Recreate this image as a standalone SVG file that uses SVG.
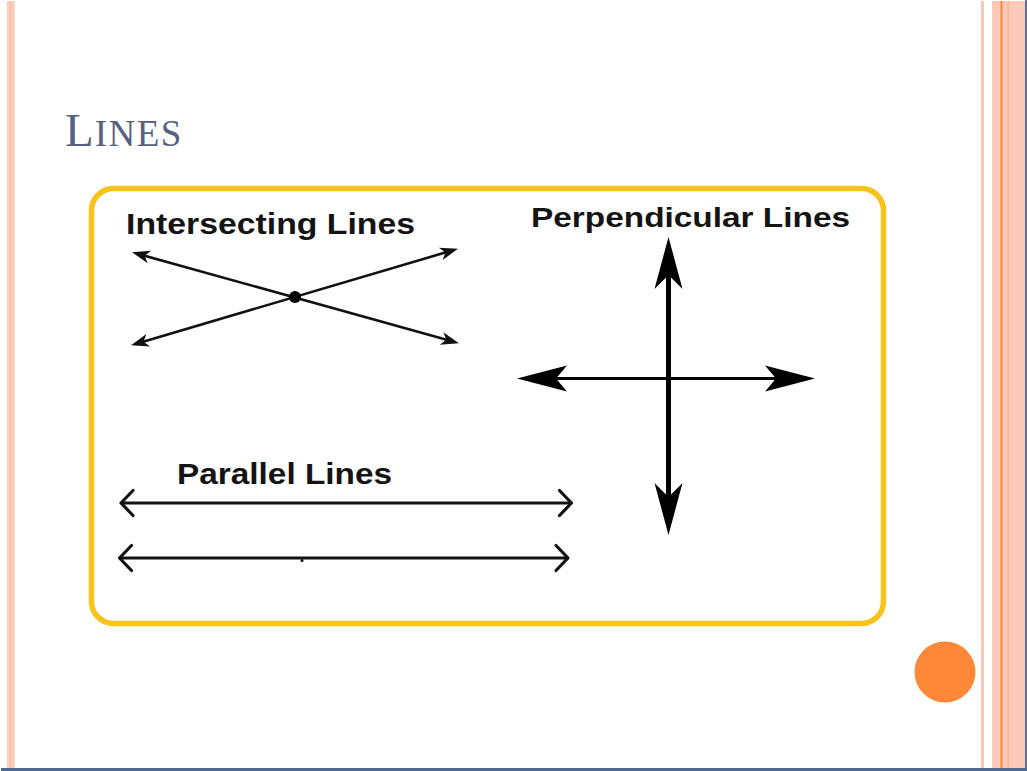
<svg xmlns="http://www.w3.org/2000/svg" width="1027" height="771" viewBox="0 0 1027 771">
  <style>
    .label { font-family: "Liberation Sans", Arial, sans-serif; font-weight: bold; fill: #141414; }
    .title { font-family: "Liberation Serif", "Times New Roman", serif; fill: #56627f; }
    .thin { stroke: #111; stroke-width: 2.6; fill: none; }
    .par { stroke: #111; stroke-width: 3; fill: none; }
  </style>
  <defs>
    <!-- arrowheads: each line ends inside the solid part of its head, refX shifts the tip ahead of it -->
    <marker id="barb" markerUnits="userSpaceOnUse" markerWidth="40" markerHeight="40" viewBox="-20 -20 40 40" refX="-9" refY="0" orient="auto-start-reverse" overflow="visible">
      <path d="M1,0 L-17,-6.5 L-12,0 L-17,6.5 Z" fill="#111"/>
    </marker>
    <marker id="bigV" markerUnits="userSpaceOnUse" markerWidth="120" markerHeight="120" viewBox="-60 -60 120 120" refX="-33" refY="0" orient="auto-start-reverse" overflow="visible">
      <path d="M0,0 L-52,-14 L-38,0 L-52,14 Z" fill="#000"/>
    </marker>
    <marker id="bigH" markerUnits="userSpaceOnUse" markerWidth="120" markerHeight="120" viewBox="-60 -60 120 120" refX="-34" refY="0" orient="auto-start-reverse" overflow="visible">
      <path d="M0,0 L-50,-13 L-39,0 L-50,13 Z" fill="#000"/>
    </marker>
    <marker id="chev" markerUnits="userSpaceOnUse" markerWidth="40" markerHeight="40" viewBox="-20 -20 40 40" refX="0" refY="0" orient="auto-start-reverse" overflow="visible">
      <path d="M-12,-12.5 L0,0 L-12,12.5" fill="none" stroke="#111" stroke-width="3.2" stroke-linecap="round" stroke-linejoin="round"/>
    </marker>
  </defs>

  <!-- slide background and side bands -->
  <rect x="0" y="0" width="1027" height="771" fill="#ffffff"/>
  <rect x="7" y="1" width="8" height="768" fill="#fdd3c3"/>
  <rect x="9" y="1" width="3.5" height="768" fill="#fbc4ae"/>
  <rect x="981" y="1" width="3" height="768" fill="#fbc8b5"/>
  <rect x="992" y="1" width="33" height="768" fill="#fdcab7"/>
  <rect x="1000.5" y="1" width="2" height="768" fill="#f3853f"/>
  <rect x="1007.5" y="1" width="1.2" height="768" fill="#f8ab88"/>
  <rect x="1025" y="0" width="2" height="771" fill="#5b7092"/>
  <rect x="1" y="768" width="1026" height="3" fill="#4e6890"/>
  <circle cx="945" cy="672" r="30.5" fill="#fe8837"/>

  <!-- slide title -->
  <text class="title" x="65" y="146"><tspan font-size="47">L</tspan><tspan font-size="37" dx="1" letter-spacing="1.5">INES</tspan></text>

  <!-- frame -->
  <rect x="91.5" y="188.5" width="792" height="435" rx="22" ry="22" fill="none" stroke="#f8c31c" stroke-width="5.5"/>

  <g id="intersecting">
    <text class="label" x="126" y="233.5" font-size="30" textLength="289" lengthAdjust="spacingAndGlyphs">Intersecting Lines</text>
  </g>
  <g id="perpendicular">
    <text class="label" x="531" y="227" font-size="28" textLength="319" lengthAdjust="spacingAndGlyphs">Perpendicular Lines</text>
  </g>
  <g id="parallel">
    <text class="label" x="177" y="483.5" font-size="30" textLength="215" lengthAdjust="spacingAndGlyphs">Parallel Lines</text>
  </g>

  <g id="connectors">
    <!-- intersecting pair -->
    <line class="thin" x1="141.7" y1="254.9" x2="449.3" y2="340.6" marker-start="url(#barb)" marker-end="url(#barb)"/>
    <line class="thin" x1="140.6" y1="342.5" x2="448.4" y2="251.6" marker-start="url(#barb)" marker-end="url(#barb)"/>
    <circle cx="295" cy="297" r="6" fill="#000"/>

    <!-- perpendicular pair -->
    <line x1="668.5" y1="270" x2="668.5" y2="502" stroke="#000" stroke-width="5" marker-start="url(#bigV)" marker-end="url(#bigV)"/>
    <line x1="551" y1="378.5" x2="781" y2="378.5" stroke="#000" stroke-width="2.8" marker-start="url(#bigH)" marker-end="url(#bigH)"/>

    <!-- parallel pair -->
    <line class="par" x1="121" y1="503" x2="571.5" y2="503" marker-start="url(#chev)" marker-end="url(#chev)"/>
    <line class="par" x1="119.5" y1="558" x2="568" y2="558" marker-start="url(#chev)" marker-end="url(#chev)"/>
    <circle cx="302" cy="560.5" r="1.5" fill="#111"/>
  </g>
</svg>
